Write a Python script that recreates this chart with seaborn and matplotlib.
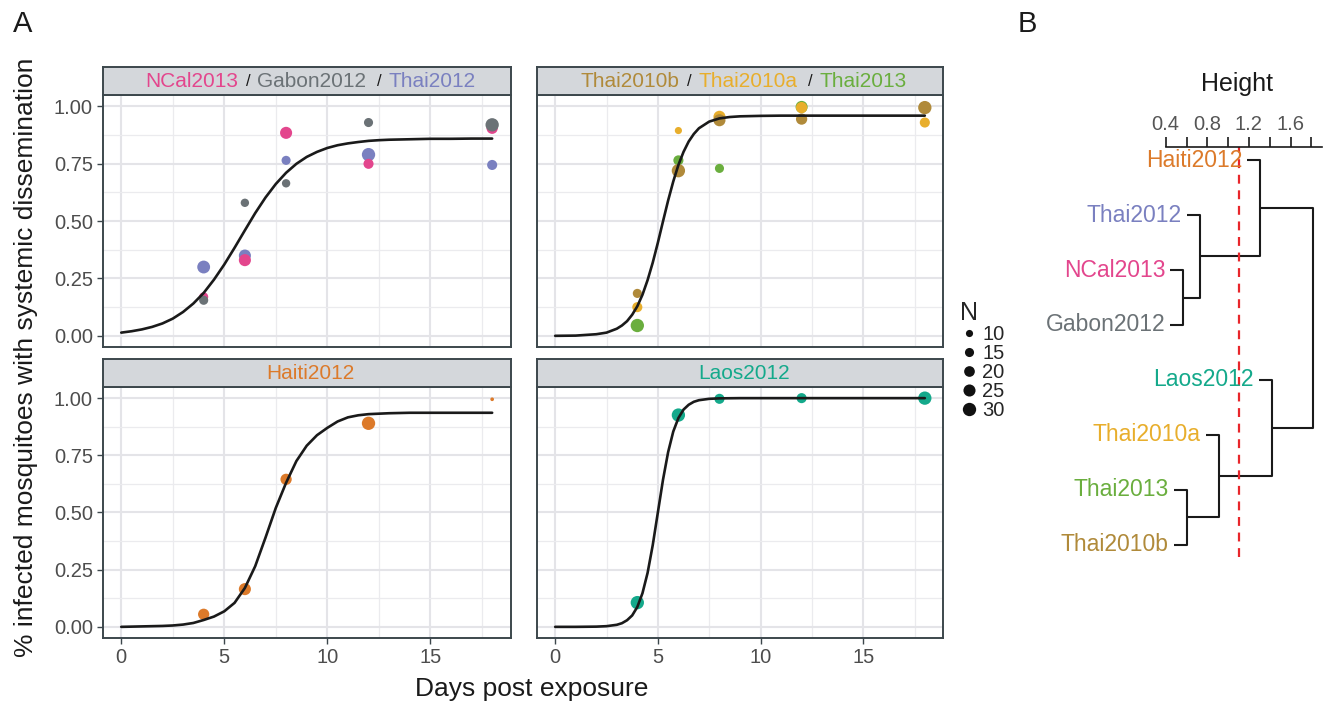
import numpy as np
import pandas as pd
import seaborn as sns
import matplotlib.pyplot as plt
from matplotlib.lines import Line2D

# ---- data ----
days = [4, 6, 8, 12, 18]

prop_ncal2013 = [0.17, 0.33, 0.885, 0.75, 0.905]
n_ncal2013 = [15, 25, 25, 18, 22]
prop_gabon2012 = [0.155, 0.58, 0.665, 0.93, 0.92]
n_gabon2012 = [15, 13, 13, 15, 30]
prop_thai2012 = [0.30, 0.35, 0.765, 0.79, 0.745]
n_thai2012 = [28, 25, 15, 33, 18]

prop_thai2010b = [0.185, 0.72, 0.94, 0.945, 0.995]
n_thai2010b = [15, 33, 25, 22, 30]
prop_thai2010a = [0.125, 0.895, 0.955, 0.995, 0.93]
n_thai2010a = [18, 10, 25, 22, 18]
days_thai2013 = [4, 6, 8, 12]
prop_thai2013 = [0.045, 0.765, 0.73, 0.998]
n_thai2013 = [30, 18, 15, 25]

prop_haiti2012 = [0.055, 0.165, 0.645, 0.89, 0.995]
n_haiti2012 = [22, 25, 22, 30, 4]

prop_laos2012 = [0.106, 0.926, 0.997, 1.0, 1.0]
n_laos2012 = [32, 33, 18, 18, 32]

# fitted curves
curve_days_tl = [0, 0.5, 1, 1.5, 2, 2.5, 3, 3.5, 4, 4.5, 5, 5.5, 6, 6.5, 7, 7.5, 8, 8.5,
                 9, 9.5, 10, 10.5, 11, 11.5, 12, 12.5, 13, 13.5, 14, 15, 16, 17, 18]
curve_tl = [0.014, 0.020, 0.028, 0.039, 0.054, 0.075, 0.104, 0.141, 0.187, 0.245, 0.311,
            0.384, 0.460, 0.535, 0.603, 0.662, 0.711, 0.750, 0.780, 0.802, 0.819, 0.831,
            0.839, 0.845, 0.850, 0.853, 0.855, 0.856, 0.857, 0.859, 0.859, 0.860, 0.860]

curve_days_tr = [0, 1, 2, 2.5, 3, 3.25, 3.5, 3.75, 4, 4.25, 4.5, 4.75, 5, 5.25, 5.5, 5.75,
                 6, 6.25, 6.5, 6.75, 7, 7.5, 8, 8.5, 9, 10, 11, 12, 14, 16, 18]
curve_tr = [0.000, 0.001, 0.007, 0.014, 0.031, 0.045, 0.064, 0.092, 0.129, 0.179, 0.243,
            0.319, 0.406, 0.499, 0.590, 0.673, 0.745, 0.802, 0.847, 0.880, 0.905, 0.934,
            0.948, 0.954, 0.957, 0.959, 0.960, 0.960, 0.960, 0.960, 0.960]

curve_days_bl = [0, 0.5, 1, 1.5, 2, 2.5, 3, 3.5, 4, 4.5, 5, 5.5, 6, 6.5, 7, 7.5, 8, 8.5,
                 9, 9.5, 10, 10.5, 11, 11.5, 12, 12.5, 13, 13.5, 14, 15, 16, 17, 18]
curve_bl = [0.000, 0.001, 0.002, 0.003, 0.004, 0.006, 0.010, 0.017, 0.030, 0.045, 0.068,
            0.105, 0.170, 0.265, 0.390, 0.520, 0.630, 0.725, 0.792, 0.838, 0.870, 0.898,
            0.916, 0.925, 0.930, 0.932, 0.934, 0.935, 0.936, 0.936, 0.936, 0.936, 0.936]

curve_days_br = [0, 1, 2, 2.5, 3, 3.25, 3.5, 3.75, 4, 4.25, 4.5, 4.75, 5, 5.25, 5.5, 5.75,
                 6, 6.25, 6.5, 6.75, 7, 7.5, 8, 9, 10, 12, 14, 16, 18]
curve_br = [0.000, 0.000, 0.001, 0.003, 0.009, 0.016, 0.029, 0.050, 0.087, 0.147, 0.236,
            0.357, 0.500, 0.643, 0.764, 0.854, 0.913, 0.950, 0.971, 0.984, 0.991, 0.997,
            0.999, 1.0, 1.0, 1.0, 1.0, 1.0, 1.0]

# dendrogram (panel B)
dend_leaves = ["Haiti2012", "Thai2012", "NCal2013", "Gabon2012",
               "Laos2012", "Thai2010a", "Thai2013", "Thai2010b"]
# (child, child, height); integers refer to earlier merges
dend_merges = [("NCal2013", "Gabon2012", 0.57),
               ("Thai2012", 0, 0.73),
               ("Haiti2012", 1, 1.31),
               ("Thai2013", "Thai2010b", 0.60),
               ("Thai2010a", 3, 0.91),
               ("Laos2012", 4, 1.42),
               (2, 5, 1.82)]
cut_height = 1.1

colors = {"NCal2013": "#E3468D", "Gabon2012": "#6B7276", "Thai2012": "#7A80C0",
          "Thai2010b": "#B08A3A", "Thai2010a": "#E8AE2C", "Thai2013": "#6AAE3E",
          "Haiti2012": "#DC7A2A", "Laos2012": "#14A98B"}

rows = []
def add(strain, panel, d, p, n):
    for a, b, c in zip(d, p, n):
        rows.append(dict(strain=strain, panel=panel, day=a, prop=b, n=c))

add("Thai2012", "tl", days, prop_thai2012, n_thai2012)
add("NCal2013", "tl", days, prop_ncal2013, n_ncal2013)
add("Gabon2012", "tl", days, prop_gabon2012, n_gabon2012)
add("Thai2013", "tr", days_thai2013, prop_thai2013, n_thai2013)
add("Thai2010a", "tr", days, prop_thai2010a, n_thai2010a)
add("Thai2010b", "tr", days, prop_thai2010b, n_thai2010b)
add("Haiti2012", "bl", days, prop_haiti2012, n_haiti2012)
add("Laos2012", "br", days, prop_laos2012, n_laos2012)
df = pd.DataFrame(rows)

SIZES = (7, 92)
N_NORM = (4, 30)

sns.set_theme(style="white")
plt.rcParams['font.family'] = ['Liberation Sans', 'DejaVu Sans']

W, H = 1329, 704
fig = plt.figure(figsize=(W / 100, H / 100), dpi=100)

def rect(x0, y0, x1, y1):
    return [x0 / W, 1 - y1 / H, (x1 - x0) / W, (y1 - y0) / H]

EDGE = '#3C474C'
TICKC = '#4D4D4D'

panels = {
    "tl": dict(box=(102.7, 95, 510.7, 347.3), curve=(curve_days_tl, curve_tl),
               title=[("NCal2013", colors["NCal2013"]), ("Gabon2012", colors["Gabon2012"]),
                      ("Thai2012", colors["Thai2012"])], left=True, bottom=False),
    "tr": dict(box=(536.7, 95, 943.3, 347.3), curve=(curve_days_tr, curve_tr),
               title=[("Thai2010b", colors["Thai2010b"]), ("Thai2010a", colors["Thai2010a"]),
                      ("Thai2013", colors["Thai2013"])], left=False, bottom=False),
    "bl": dict(box=(102.7, 386.7, 510.7, 638.3), curve=(curve_days_bl, curve_bl),
               title=[("Haiti2012", colors["Haiti2012"])], left=True, bottom=True),
    "br": dict(box=(536.7, 386.7, 943.3, 638.3), curve=(curve_days_br, curve_br),
               title=[("Laos2012", colors["Laos2012"])], left=False, bottom=True),
}

renderer = fig.canvas.get_renderer()

def strip_title(x0, x1, yc, segs):
    pieces = []
    for i, (lab, col) in enumerate(segs):
        if i > 0:
            pieces.append(("/", "#1a1a1a", 12, 7 if i == 1 else 11))
        pieces.append((lab, col, 15, 7))
    texts, total = [], 0
    for j, (lab, col, fs, gap) in enumerate(pieces):
        t = fig.text(0, 1 - yc / H, lab, color=col, fontsize=fs, va='center', ha='left')
        w = t.get_window_extent(renderer).width
        g = gap if j > 0 else 0
        texts.append((t, w, g))
        total += w + g
    x = (x0 + x1) / 2 - total / 2 + 4
    for t, w, g in texts:
        x += g
        t.set_x(x / W)
        x += w

for key, p in panels.items():
    x0, y0, x1, y1 = p["box"]
    ax = fig.add_axes(rect(x0, y0, x1, y1))
    sub = df[df.panel == key]
    sns.scatterplot(data=sub, x="day", y="prop", hue="strain", size="n", palette=colors,
                    sizes=SIZES, size_norm=N_NORM, linewidth=0, legend=False, ax=ax, zorder=2)
    cd, cv = p["curve"]
    sns.lineplot(x=cd, y=cv, color='#1a1a1a', lw=1.9, sort=False, ax=ax, zorder=3)
    ax.set_xlim(-0.9, 18.9)
    ax.set_ylim(-0.05, 1.05)
    ax.set_xticks([0, 5, 10, 15])
    ax.set_xticks([2.5, 7.5, 12.5, 17.5], minor=True)
    ax.set_yticks([0, 0.25, 0.5, 0.75, 1.0])
    ax.set_yticks([0.125, 0.375, 0.625, 0.875], minor=True)
    ax.grid(which='major', color='#E4E4E8', lw=1.5)
    ax.grid(which='minor', color='#EBEBEE', lw=0.9)
    ax.set_axisbelow(True)
    ax.set_xlabel("")
    ax.set_ylabel("")
    for s in ax.spines.values():
        s.set_color(EDGE)
        s.set_linewidth(1.4)
    ax.tick_params(which='minor', length=0)
    ax.tick_params(which='major', length=4, width=1.0, color=EDGE, labelcolor=TICKC,
                   labelsize=14.5, pad=3,
                   left=p["left"], labelleft=p["left"],
                   bottom=p["bottom"], labelbottom=p["bottom"])
    if p["left"]:
        ax.set_yticklabels(["0.00", "0.25", "0.50", "0.75", "1.00"])
    # facet strip
    sy0 = y0 - 27.7
    sax = fig.add_axes(rect(x0, sy0, x1, y0))
    sax.set_facecolor('#D4D7DB')
    sax.set_xticks([])
    sax.set_yticks([])
    for s in sax.spines.values():
        s.set_color(EDGE)
        s.set_linewidth(1.4)
    strip_title(x0, x1, (sy0 + y0) / 2 + 0.5, p["title"])

fig.text(26 / W, 1 - 357 / H, "% infected mosquitoes with systemic dissemination",
         rotation=90, fontsize=19, color='#1a1a1a', ha='center', va='center')
fig.text(532 / W, 1 - 689 / H, "Days post exposure", fontsize=19, color='#1a1a1a',
         ha='center', va='center')
fig.text(13 / W, 1 - 32 / H, "A", fontsize=21, color='#1a1a1a', va='baseline')
fig.text(1018 / W, 1 - 32 / H, "B", fontsize=21, color='#1a1a1a', va='baseline')

# size legend
leg_n = [10, 15, 20, 25, 30]
def size_of(n):
    return SIZES[0] + (SIZES[1] - SIZES[0]) * (n - N_NORM[0]) / (N_NORM[1] - N_NORM[0])
handles = [Line2D([], [], ls='', marker='o', color='#111111', markeredgewidth=0,
                  markersize=np.sqrt(size_of(n))) for n in leg_n]
leg = fig.legend(handles, [str(n) for n in leg_n], title="N", loc='upper left',
                 bbox_to_anchor=(950 / W, 1 - 291 / H), frameon=False, fontsize=14.5,
                 title_fontsize=18, labelspacing=0.0, handlelength=0.9,
                 handletextpad=0.2, borderpad=0, alignment='left')

# dendrogram
bax = fig.add_axes(rect(1040, 146.7, 1329, 556.7))
bax.set_xlim(-0.809, 1.970)
bax.set_ylim(7.213, -0.242)
heights = [m[2] for m in dend_merges]
hang = 0.1 * (max(heights) - min(heights))
node_y, node_x = {}, {}
for i, leaf in enumerate(dend_leaves):
    node_y[leaf] = i
for k, (a, b, h) in enumerate(dend_merges):
    ys = []
    for c in (a, b):
        y = node_y[c]
        if isinstance(c, str):
            xs = h - hang
            bax.text(xs - 0.05, y, c, color=colors[c], fontsize=16.5, ha='right', va='center')
        else:
            xs = node_x[c]
        bax.plot([xs, h], [y, y], color='#1a1a1a', lw=1.5, solid_capstyle='butt')
        ys.append(y)
    bax.plot([h, h], ys, color='#1a1a1a', lw=1.5)
    node_y[k] = np.mean(ys)
    node_x[k] = h
bax.axvline(cut_height, color='#E8262B', ls=(0, (4, 3)), lw=1.6)
for s in ['left', 'right', 'bottom']:
    bax.spines[s].set_visible(False)
bax.spines['top'].set_bounds(0.4, 1.9)
bax.spines['top'].set_color('#1a1a1a')
bax.spines['top'].set_linewidth(1.2)
bax.set_facecolor('none')
bax.set_yticks([])
bax.xaxis.tick_top()
bax.set_xticks([0.4, 0.8, 1.2, 1.6])
bax.set_xticklabels(["0.4", "0.8", "1.2", "1.6"])
bax.set_xticks([0.6, 1.0, 1.4, 1.8], minor=True)
bax.tick_params(axis='x', which='both', direction='out', length=7, width=1.2,
                color='#1a1a1a', top=True, bottom=False)
bax.tick_params(axis='x', which='major', labelsize=14.5, labelcolor='#555555', pad=2)
fig.text(1237 / W, 1 - 84 / H, "Height", fontsize=18, color='#1a1a1a',
         ha='center', va='center')

fig.savefig("out.png", dpi=100)
